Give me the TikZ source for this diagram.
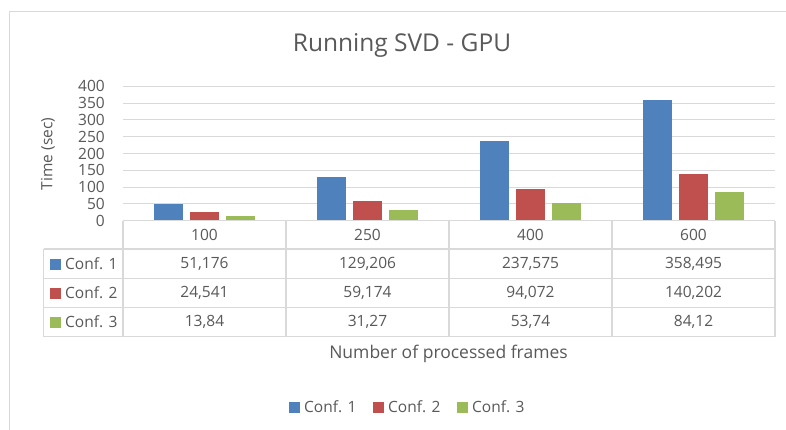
\documentclass[tikz,border=0pt]{standalone}
\usepackage{fontspec}
\setmainfont{Open Sans}
\definecolor{cA}{HTML}{4F81BD}
\definecolor{cB}{HTML}{C0504D}
\definecolor{cC}{HTML}{9BBB59}
\definecolor{gridc}{HTML}{D9D9D9}
\definecolor{txt}{HTML}{595959}
\begin{document}
\begin{tikzpicture}[x=1pt,y=-1pt,
  lbl/.style={text=txt,font=\fontsize{15.5}{18}\selectfont,inner sep=0pt},
  gline/.style={draw=gridc,line width=1pt},
  tline/.style={draw=gridc,line width=1.3pt}]
\useasboundingbox (0,0) rectangle (786,430);
\fill[white] (0,0) rectangle (786,430);
% chart frame
\draw[gline] (9.5,11.5) -- (786,11.5);
\draw[gline] (9.5,11.5) -- (9.5,430);
% title
\node[text=txt,font=\fontsize{24.5}{29}\selectfont,inner sep=0pt] (title) at (402,45) {Running SVD - GPU};
% grid and ticks
\foreach \k in {1,...,8}{
  \draw[gline] (123,{220.7-\k*16.8}) -- (775,{220.7-\k*16.8});
}
\foreach \k in {0,...,8}{
  \pgfmathtruncatemacro{\v}{\k*50}
  \node[lbl,anchor=east] (t\k) at (105,{220.7-\k*16.8}) {\v};
}
\node[lbl,rotate=90] (ylab) at (48,154) {Time (sec)};
% bars
\foreach \a/\b/\c [count=\i from 0] in {51.176/24.541/13.84,129.206/59.174/31.27,237.575/94.072/53.74,358.495/140.202/84.12}{
  \pgfmathsetmacro{\cx}{123+163*(\i+0.5)}
  \fill[cA] ({\cx-36-14.25},220.7) rectangle ({\cx-36+14.25},{220.7-\a*0.336});
  \fill[cB] ({\cx-14.25},220.7) rectangle ({\cx+14.25},{220.7-\b*0.336});
  \fill[cC] ({\cx+36-14.25},220.7) rectangle ({\cx+36+14.25},{220.7-\c*0.336});
}
% table lines
\draw[tline] (123,220.7) -- (775,220.7);
\foreach \yy in {249,278.7,307.7,336.7}{
  \draw[tline] (43.7,\yy) -- (775,\yy);
}
\draw[tline] (43.7,249) -- (43.7,336.7);
\foreach \xx in {123,286,449,612,775}{
  \draw[tline] (\xx,220.7) -- (\xx,336.7);
}
% category header
\foreach \lab [count=\i from 0] in {100,250,400,600}{
  \node[lbl] (h\i) at ({123+163*(\i+0.5)},235) {\lab};
}
% row labels
\foreach \col/\nm [count=\r from 0] in {cA/Conf. 1,cB/Conf. 2,cC/Conf. 3}{
  \fill[\col] (50,{264+29*\r-5.5}) rectangle (61,{264+29*\r+5.5});
  \node[lbl,anchor=west] (r\r) at (65,{264+29*\r}) {\nm};
}
% values
\foreach \a/\b/\c [count=\i from 0] in {51{,}176/24{,}541/13{,}84,129{,}206/59{,}174/31{,}27,237{,}575/94{,}072/53{,}74,358{,}495/140{,}202/84{,}12}{
  \node[lbl] (va\i) at ({123+163*(\i+0.5)},264) {\a};
  \node[lbl] (vb\i) at ({123+163*(\i+0.5)},293) {\b};
  \node[lbl] (vc\i) at ({123+163*(\i+0.5)},322) {\c};
}
% axis title
\node[lbl,font=\fontsize{17.5}{21}\selectfont] (xlab) at (448.5,354) {Number of processed frames};
% legend
\fill[cA] (289,401.5) rectangle (300,412.5);
\node[lbl,anchor=west] (l1) at (304,407) {Conf. 1};
\fill[cB] (373,401.5) rectangle (384,412.5);
\node[lbl,anchor=west] (l2) at (388,407) {Conf. 2};
\fill[cC] (457,401.5) rectangle (468,412.5);
\node[lbl,anchor=west] (l3) at (472,407) {Conf. 3};
\end{tikzpicture}
\end{document}
